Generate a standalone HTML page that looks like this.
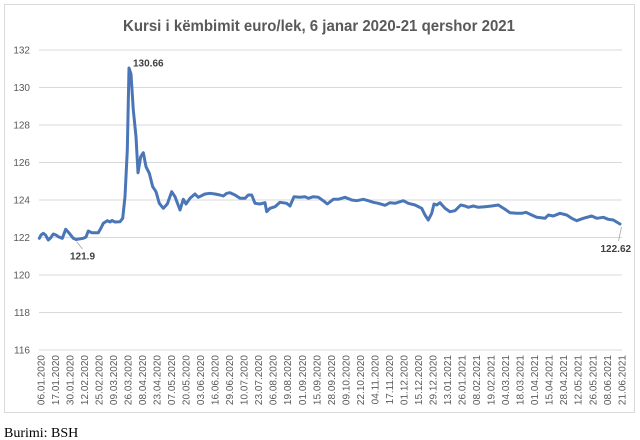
<!DOCTYPE html>
<html>
<head>
<meta charset="utf-8">
<style>
html,body{margin:0;padding:0;background:#fff;}
svg{display:block;}
</style>
</head>
<body>
<svg width="640" height="440" viewBox="0 0 640 440" xmlns="http://www.w3.org/2000/svg">
<rect x="0" y="0" width="640" height="440" fill="#fff"/>
<rect x="4.5" y="4.5" width="630" height="408" fill="#fff" stroke="#d9d9d9" stroke-width="1"/>
<text x="319" y="31" text-anchor="middle" font-family="Liberation Sans, sans-serif" font-weight="bold" font-size="16" fill="#595959" textLength="392" lengthAdjust="spacingAndGlyphs">Kursi i këmbimit euro/lek, 6 janar 2020-21 qershor 2021</text>
<g stroke="#d9d9d9" stroke-width="1">
<line x1="39" y1="50" x2="622" y2="50"/>
<line x1="39" y1="87.5" x2="622" y2="87.5"/>
<line x1="39" y1="125" x2="622" y2="125"/>
<line x1="39" y1="162.5" x2="622" y2="162.5"/>
<line x1="39" y1="200" x2="622" y2="200"/>
<line x1="39" y1="237.5" x2="622" y2="237.5"/>
<line x1="39" y1="275" x2="622" y2="275"/>
<line x1="39" y1="312.5" x2="622" y2="312.5"/>
<line x1="39" y1="350" x2="622" y2="350"/>
</g>
<g font-family="Liberation Sans, sans-serif" font-size="10" fill="#595959" text-anchor="end">
<text x="30" y="53.5">132</text>
<text x="30" y="91">130</text>
<text x="30" y="128.5">128</text>
<text x="30" y="166">126</text>
<text x="30" y="203.5">124</text>
<text x="30" y="241">122</text>
<text x="30" y="278.5">120</text>
<text x="30" y="316">118</text>
<text x="30" y="353.5">116</text>
</g>
<g font-family="Liberation Sans, sans-serif" font-size="10" fill="#595959" text-anchor="end">
<text transform="translate(44.3,355) rotate(-90)">06.01.2020</text>
<text transform="translate(58.8,355) rotate(-90)">17.01.2020</text>
<text transform="translate(73.4,355) rotate(-90)">30.01.2020</text>
<text transform="translate(87.9,355) rotate(-90)">12.02.2020</text>
<text transform="translate(102.4,355) rotate(-90)">25.02.2020</text>
<text transform="translate(116.9,355) rotate(-90)">09.03.2020</text>
<text transform="translate(131.5,355) rotate(-90)">26.03.2020</text>
<text transform="translate(146.0,355) rotate(-90)">08.04.2020</text>
<text transform="translate(160.5,355) rotate(-90)">23.04.2020</text>
<text transform="translate(175.0,355) rotate(-90)">07.05.2020</text>
<text transform="translate(189.6,355) rotate(-90)">20.05.2020</text>
<text transform="translate(204.1,355) rotate(-90)">03.06.2020</text>
<text transform="translate(218.6,355) rotate(-90)">16.06.2020</text>
<text transform="translate(233.1,355) rotate(-90)">29.06.2020</text>
<text transform="translate(247.7,355) rotate(-90)">10.07.2020</text>
<text transform="translate(262.2,355) rotate(-90)">23.07.2020</text>
<text transform="translate(276.7,355) rotate(-90)">06.08.2020</text>
<text transform="translate(291.2,355) rotate(-90)">19.08.2020</text>
<text transform="translate(305.8,355) rotate(-90)">01.09.2020</text>
<text transform="translate(320.3,355) rotate(-90)">15.09.2020</text>
<text transform="translate(334.8,355) rotate(-90)">28.09.2020</text>
<text transform="translate(349.3,355) rotate(-90)">09.10.2020</text>
<text transform="translate(363.9,355) rotate(-90)">22.10.2020</text>
<text transform="translate(378.4,355) rotate(-90)">04.11.2020</text>
<text transform="translate(392.9,355) rotate(-90)">17.11.2020</text>
<text transform="translate(407.4,355) rotate(-90)">01.12.2020</text>
<text transform="translate(422.0,355) rotate(-90)">15.12.2020</text>
<text transform="translate(436.5,355) rotate(-90)">29.12.2020</text>
<text transform="translate(451.0,355) rotate(-90)">13.01.2021</text>
<text transform="translate(465.5,355) rotate(-90)">26.01.2021</text>
<text transform="translate(480.1,355) rotate(-90)">08.02.2021</text>
<text transform="translate(494.6,355) rotate(-90)">19.02.2021</text>
<text transform="translate(509.1,355) rotate(-90)">04.03.2021</text>
<text transform="translate(523.6,355) rotate(-90)">18.03.2021</text>
<text transform="translate(538.2,355) rotate(-90)">01.04.2021</text>
<text transform="translate(552.7,355) rotate(-90)">15.04.2021</text>
<text transform="translate(567.2,355) rotate(-90)">28.04.2021</text>
<text transform="translate(581.7,355) rotate(-90)">12.05.2021</text>
<text transform="translate(596.3,355) rotate(-90)">26.05.2021</text>
<text transform="translate(610.8,355) rotate(-90)">08.06.2021</text>
<text transform="translate(625.3,355) rotate(-90)">21.06.2021</text>
</g>
<polyline fill="none" stroke="#4a76b8" stroke-width="3" stroke-linejoin="round" stroke-linecap="round" points="
39.3,238.3 41,235 43.3,233.3 45.5,235 48.3,240 50.5,238 53.3,234 56,235 58.3,236.7 62.3,238.3 65.7,229.3 69.3,233.3 73.3,238.3 76,239.5 83.3,238.3 86,237 88.3,231 91.7,232.7 98.3,232.7 101,228 103.3,223.3 107.3,220.7 110,222 112,220.5 115,222 120,221.7 122.7,218.3 125,196.7 127.3,150 129,68 131,74 133.3,110 136,136.7 138,172.7 140.7,156.7 143.3,152.7 146,166.7 149.3,173.3 152.7,186.7 156,191.7 159.3,203.3 163.3,208.3 167.3,204 171.7,191.7 175,196.7 180,210 183.3,199.3 186,204 190,198.3 195,194 198.3,197.3 205,194 210,193.3 215,194 220,195 223.3,196 226.7,193.3 230,192.7 235,195 240,198.3 245,198.3 248.3,195 251.7,195 255,203.3 260,204 265,202.7 266.7,211.7 270,208.3 275,206.7 280,202.3 286.7,203.3 290,206 294,196.7 300,197.3 305,196.7 308.3,198.3 313.3,196.7 318.3,197.3 323.3,200.7 327.3,204 333.3,199.3 338.3,199.3 345,197.3 351.7,200 356.7,200.7 363.3,199.3 368.3,200.7 373.3,202.3 378.3,203.3 385,205.3 390,202.7 395,203.3 403.3,200.7 408.3,203.3 415,205 421.7,208.3 425,215 428.3,220 431.7,213.3 434,204 436.7,205 440,202.7 445,208.3 450,211.7 455,210.7 460.7,205 465,206 468.3,207.3 473.3,206 478.3,207.3 485,206.7 491.7,206 498.3,205 505,209.3 510,212.7 516.7,213.3 521.7,213.3 526,212.3 531.7,215 536.7,217.3 545,218.3 548.3,215 553.3,216 560,213.3 566.7,215 571.7,218.3 576.7,220.7 583.3,218.3 591.7,216 596.7,218.3 603.3,217.3 608.3,219.3 613.3,220 620,224"/>
<g stroke="#a6a6a6" stroke-width="0.8">
<line x1="76.5" y1="241.5" x2="82.5" y2="249"/>
<line x1="621.5" y1="227" x2="618.5" y2="241"/>
</g>
<g font-family="Liberation Sans, sans-serif" font-weight="bold" font-size="10" fill="#404040">
<text x="133" y="66.5">130.66</text>
<text x="70" y="259.5">121.9</text>
<text x="600.5" y="252">122.62</text>
</g>
<text x="4" y="437" font-family="Liberation Serif, serif" font-size="14" fill="#000">Burimi: BSH</text>
</svg>
</body>
</html>
